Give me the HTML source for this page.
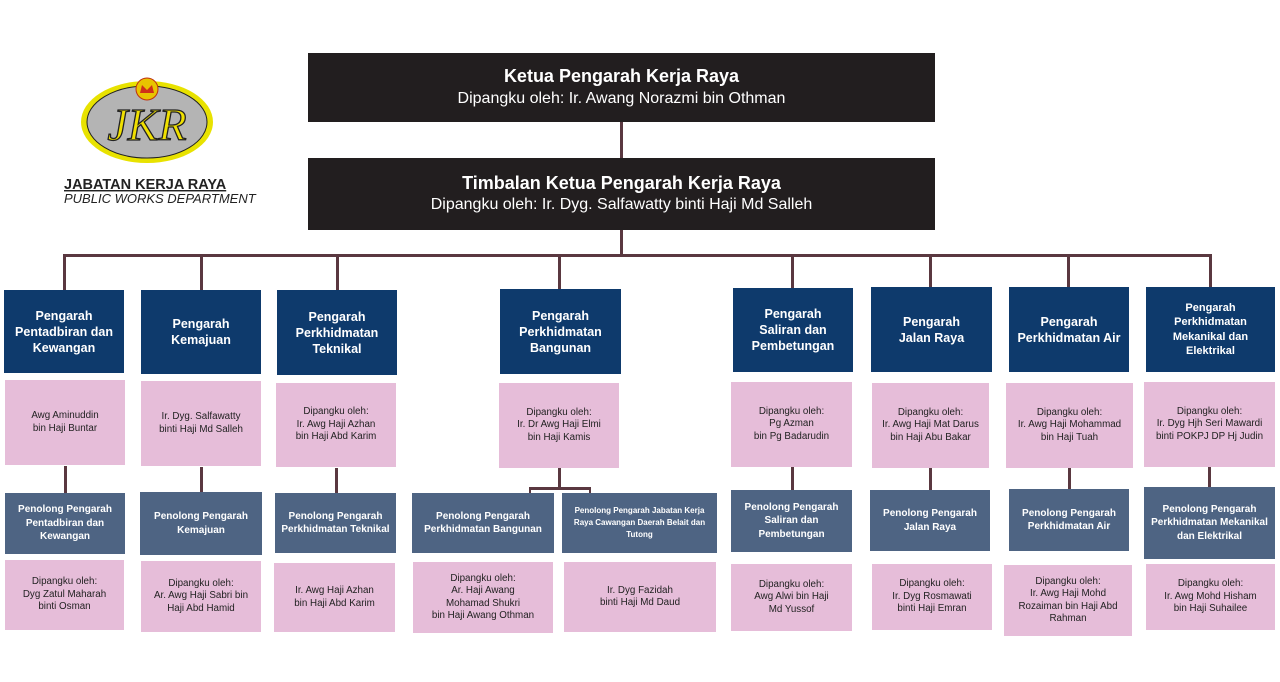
<!DOCTYPE html>
<html><head><meta charset="utf-8"><style>
body{margin:0;width:1280px;height:682px;background:#fff;position:relative;overflow:hidden;font-family:"Liberation Sans",sans-serif}
.b{position:absolute;display:flex;align-items:center;justify-content:center;text-align:center;box-sizing:border-box;line-height:1.3}
.top{background:#221e1f;color:#fff}
.d{background:#0e3a6c;color:#fff;font-weight:bold;font-size:12.5px;line-height:16px}
.a{background:#4e6483;color:#fff;font-weight:bold;font-size:10px;line-height:13.5px}
.p{background:#e6bdd9;color:#222;font-size:9.8px;line-height:12.5px}
.l{position:absolute;background:#5a3840}
</style></head><body>
<svg style="position:absolute;left:0;top:0" width="300" height="220">
<ellipse cx="147" cy="122" rx="66" ry="41" fill="#e8e200"/>
<ellipse cx="147" cy="122" rx="60" ry="36" fill="#b4b4b4" stroke="#222" stroke-width="1"/>
<circle cx="147" cy="89" r="11" fill="#e8c400" stroke="#c03010" stroke-width="1"/>
<path d="M140 93 L142 85 L147 90 L152 85 L154 93 Z" fill="#d03018"/>
<text x="147" y="140" text-anchor="middle" font-family="Liberation Serif" font-style="italic" font-size="46" fill="#f0e000" stroke="#222" stroke-width="1.3">JKR</text>
<text x="64" y="189" font-family="Liberation Sans" font-weight="bold" font-size="14.5" fill="#222" text-decoration="underline">JABATAN KERJA RAYA</text>
<text x="64" y="203" font-family="Liberation Sans" font-style="italic" font-size="13" fill="#222">PUBLIC WORKS DEPARTMENT</text>
</svg>
<div class="b top" style="left:308px;top:53px;width:627px;height:69px;flex-direction:column"><div style="font-weight:bold;font-size:18px">Ketua Pengarah Kerja Raya</div><div style="font-size:16px">Dipangku oleh: Ir. Awang Norazmi bin Othman</div></div>
<div class="l" style="left:620px;top:122px;width:3px;height:36px"></div>
<div class="b top" style="left:308px;top:158px;width:627px;height:72px;flex-direction:column"><div style="font-weight:bold;font-size:18px">Timbalan Ketua Pengarah Kerja Raya</div><div style="font-size:16px">Dipangku oleh: Ir. Dyg. Salfawatty binti Haji Md Salleh</div></div>
<div class="l" style="left:620px;top:230px;width:3px;height:26px"></div>
<div class="l" style="left:63px;top:254px;width:1149px;height:3px"></div>
<div class="l" style="left:63px;top:255px;width:3px;height:35px"></div>
<div class="l" style="left:200px;top:255px;width:3px;height:35px"></div>
<div class="l" style="left:336px;top:255px;width:3px;height:35px"></div>
<div class="l" style="left:558px;top:255px;width:3px;height:34px"></div>
<div class="l" style="left:791px;top:255px;width:3px;height:33px"></div>
<div class="l" style="left:929px;top:255px;width:3px;height:32px"></div>
<div class="l" style="left:1067px;top:255px;width:3px;height:32px"></div>
<div class="l" style="left:1209px;top:255px;width:3px;height:32px"></div>
<!-- vertical connectors pink->asst -->
<div class="l" style="left:64px;top:466px;width:3px;height:27px"></div>
<div class="l" style="left:200px;top:467px;width:3px;height:25px"></div>
<div class="l" style="left:335px;top:468px;width:3px;height:25px"></div>
<div class="l" style="left:558px;top:468px;width:3px;height:21px"></div>
<div class="l" style="left:529px;top:487px;width:62px;height:3px"></div>
<div class="l" style="left:529px;top:487px;width:2px;height:7px"></div>
<div class="l" style="left:589px;top:487px;width:2px;height:7px"></div>
<div class="l" style="left:791px;top:467px;width:3px;height:23px"></div>
<div class="l" style="left:929px;top:468px;width:3px;height:22px"></div>
<div class="l" style="left:1068px;top:468px;width:3px;height:21px"></div>
<div class="l" style="left:1208px;top:467px;width:3px;height:20px"></div>

<div class="b d" style="left:4px;top:290px;width:120px;height:83px">Pengarah<br>Pentadbiran dan<br>Kewangan</div>
<div class="b p" style="left:5px;top:380px;width:120px;height:85px">Awg Aminuddin<br>bin Haji Buntar</div>
<div class="b a" style="left:5px;top:493px;width:120px;height:61px">Penolong Pengarah<br>Pentadbiran dan<br>Kewangan</div>
<div class="b p" style="left:5px;top:560px;width:119px;height:70px">Dipangku oleh:<br>Dyg Zatul Maharah<br>binti Osman</div>

<div class="b d" style="left:141px;top:290px;width:120px;height:84px">Pengarah<br>Kemajuan</div>
<div class="b p" style="left:141px;top:381px;width:120px;height:85px">Ir. Dyg. Salfawatty<br>binti Haji Md Salleh</div>
<div class="b a" style="left:140px;top:492px;width:122px;height:63px">Penolong Pengarah<br>Kemajuan</div>
<div class="b p" style="left:141px;top:561px;width:120px;height:71px">Dipangku oleh:<br>Ar. Awg Haji Sabri bin<br>Haji Abd Hamid</div>

<div class="b d" style="left:277px;top:290px;width:120px;height:85px">Pengarah<br>Perkhidmatan<br>Teknikal</div>
<div class="b p" style="left:276px;top:383px;width:120px;height:84px">Dipangku oleh:<br>Ir. Awg Haji Azhan<br>bin Haji Abd Karim</div>
<div class="b a" style="left:275px;top:493px;width:121px;height:60px">Penolong Pengarah<br>Perkhidmatan Teknikal</div>
<div class="b p" style="left:274px;top:563px;width:121px;height:69px">Ir. Awg Haji Azhan<br>bin Haji Abd Karim</div>

<div class="b d" style="left:500px;top:289px;width:121px;height:85px">Pengarah<br>Perkhidmatan<br>Bangunan</div>
<div class="b p" style="left:499px;top:383px;width:120px;height:85px">Dipangku oleh:<br>Ir. Dr Awg Haji Elmi<br>bin Haji Kamis</div>
<div class="b a" style="left:412px;top:493px;width:142px;height:60px">Penolong Pengarah<br>Perkhidmatan Bangunan</div>
<div class="b a" style="left:562px;top:493px;width:155px;height:60px;font-size:8px;line-height:12px">Penolong Pengarah Jabatan Kerja<br>Raya Cawangan Daerah Belait dan<br>Tutong</div>
<div class="b p" style="left:413px;top:562px;width:140px;height:71px">Dipangku oleh:<br>Ar. Haji Awang<br>Mohamad Shukri<br>bin Haji Awang Othman</div>
<div class="b p" style="left:564px;top:562px;width:152px;height:70px">Ir. Dyg Fazidah<br>binti Haji Md Daud</div>

<div class="b d" style="left:733px;top:288px;width:120px;height:84px">Pengarah<br>Saliran dan<br>Pembetungan</div>
<div class="b p" style="left:731px;top:382px;width:121px;height:85px">Dipangku oleh:<br>Pg Azman<br>bin Pg Badarudin</div>
<div class="b a" style="left:731px;top:490px;width:121px;height:62px">Penolong Pengarah<br>Saliran dan<br>Pembetungan</div>
<div class="b p" style="left:731px;top:564px;width:121px;height:67px">Dipangku oleh:<br>Awg Alwi bin Haji<br>Md Yussof</div>

<div class="b d" style="left:871px;top:287px;width:121px;height:85px">Pengarah<br>Jalan Raya</div>
<div class="b p" style="left:872px;top:383px;width:117px;height:85px">Dipangku oleh:<br>Ir. Awg Haji Mat Darus<br>bin Haji Abu Bakar</div>
<div class="b a" style="left:870px;top:490px;width:120px;height:61px">Penolong Pengarah<br>Jalan Raya</div>
<div class="b p" style="left:872px;top:564px;width:120px;height:66px">Dipangku oleh:<br>Ir. Dyg Rosmawati<br>binti Haji Emran</div>

<div class="b d" style="left:1009px;top:287px;width:120px;height:85px">Pengarah<br>Perkhidmatan Air</div>
<div class="b p" style="left:1006px;top:383px;width:127px;height:85px">Dipangku oleh:<br>Ir. Awg Haji Mohammad<br>bin Haji Tuah</div>
<div class="b a" style="left:1009px;top:489px;width:120px;height:62px">Penolong Pengarah<br>Perkhidmatan Air</div>
<div class="b p" style="left:1004px;top:565px;width:128px;height:71px">Dipangku oleh:<br>Ir. Awg Haji Mohd<br>Rozaiman bin Haji Abd<br>Rahman</div>

<div class="b d" style="left:1146px;top:287px;width:129px;height:85px;font-size:11px;line-height:14.5px">Pengarah<br>Perkhidmatan<br>Mekanikal dan<br>Elektrikal</div>
<div class="b p" style="left:1144px;top:382px;width:131px;height:85px">Dipangku oleh:<br>Ir. Dyg Hjh Seri Mawardi<br>binti POKPJ DP Hj Judin</div>
<div class="b a" style="left:1144px;top:487px;width:131px;height:72px">Penolong Pengarah<br>Perkhidmatan Mekanikal<br>dan Elektrikal</div>
<div class="b p" style="left:1146px;top:564px;width:129px;height:66px">Dipangku oleh:<br>Ir. Awg Mohd Hisham<br>bin Haji Suhailee</div>
</body></html>
